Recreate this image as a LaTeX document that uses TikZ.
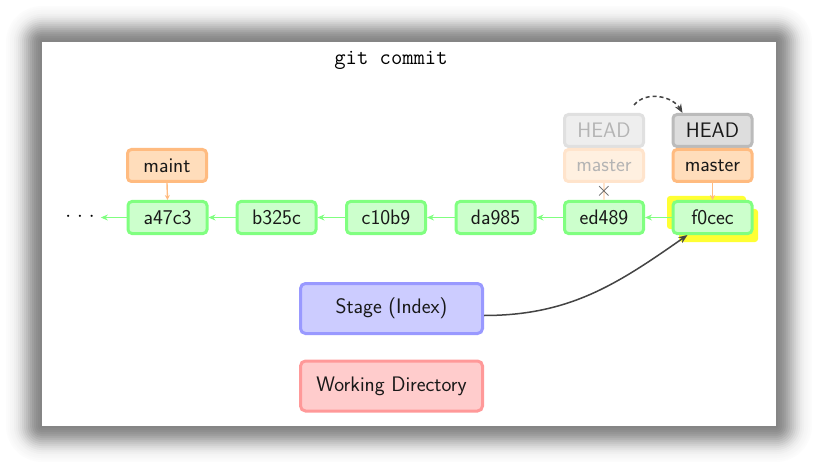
\documentclass[tikz,border=0pt]{standalone}
\usetikzlibrary{arrows.meta,calc}
\definecolor{cgreenline}{HTML}{80FF80}
\definecolor{cgreenfill}{HTML}{CCFFCC}
\definecolor{corangeline}{HTML}{FFBB80}
\definecolor{corangefill}{HTML}{FFDDBB}
\definecolor{cheadline}{HTML}{BBBBBB}
\definecolor{cheadfill}{HTML}{DDDDDD}
\definecolor{cfadeheadline}{HTML}{E0E0E0}
\definecolor{cfadeheadfill}{HTML}{EEEEEE}
\definecolor{cfadeorline}{HTML}{FFE4CC}
\definecolor{cfadeorfill}{HTML}{FFF0E0}
\definecolor{cfadetext}{HTML}{B4B4B4}
\definecolor{cblueline}{HTML}{9999FF}
\definecolor{cbluefill}{HTML}{CCCCFF}
\definecolor{credline}{HTML}{FF9999}
\definecolor{credfill}{HTML}{FFCCCC}
\definecolor{chigh}{HTML}{FFFF33}
\definecolor{cdark}{HTML}{444444}
\tikzset{
  every node/.style={font=\fontsize{21}{25}\selectfont\sffamily},
  box/.style={draw, line width=3pt, rounded corners=4pt, inner sep=0pt,
    minimum width=79pt, minimum height=32pt, text=black!90},
  commit/.style={box, draw=cgreenline, fill=cgreenfill},
  branch/.style={box, draw=corangeline, fill=corangefill},
  headbox/.style={box, draw=cheadline, fill=cheadfill},
  fadehead/.style={box, draw=cfadeheadline, fill=cfadeheadfill, text=cfadetext},
  fadebranch/.style={box, draw=cfadeorline, fill=cfadeorfill, text=cfadetext},
  area/.style={draw, line width=3pt, rounded corners=5pt, inner sep=0pt,
    minimum width=182pt, minimum height=50pt, text=black!90},
  parent/.style={draw=cgreenline, line width=1.6pt, -{Stealth[length=7pt,width=6pt]}},
  points/.style={draw=corangeline, line width=1.4pt, -{Stealth[length=5pt,width=5pt]}},
  move/.style={draw=cdark, line width=1.5pt, -{Stealth[length=9pt,width=7pt]}},
  glow/.style={fill=chigh, rounded corners=3pt},
}
\begin{document}
\begin{tikzpicture}[x=1pt,y=1pt]
  \useasboundingbox (0,0) rectangle (818,469);
  % soft drop shadow round the sheet: rings of decreasing grey, outermost first
  \foreach \d/\g in {36/1,34/2,32/3,30/4,28/6,26/8,24/11,22/14,20/18,18/22,
                     16/26,14/30,12/34,10/38,8/41,6/44,4/46,2/48}{
    \fill[black!\g, rounded corners=\d pt]
      ({42-\d},{43-\d}) rectangle ({776+\d},{427+\d});
  }
  \fill[white] (42,43) rectangle (776,427);

  % title
  \node[font=\fontsize{22}{26}\selectfont\ttfamily] (title) at (391,409) {git commit};

  % highlight behind the new commit
  \fill[glow] (667,240) rectangle (746,273);
  \fill[glow] (679,227) rectangle (758,260);

  % commits
  \node[commit] (a47c3) at (167.5,251.5) {a47c3};
  \node[commit] (b325c) at (276.5,251.5) {b325c};
  \node[commit] (c10b9) at (386,251.5) {c10b9};
  \node[commit] (da985) at (495.5,251.5) {da985};
  \node[commit] (ed489) at (604,251.5) {ed489};
  \node[commit] (f0cec) at (712.5,251.5) {f0cec};
  \node[inner sep=0pt] (dots) at (80,252) {$\cdot$\hspace{6pt}$\cdot$\hspace{6pt}$\cdot$};

  % parent links
  \draw[parent] (a47c3.west) -- ([xshift=6pt]dots.east |- a47c3.west);
  \draw[parent] (b325c.west) -- (a47c3.east);
  \draw[parent] (c10b9.west) -- (b325c.east);
  \draw[parent] (da985.west) -- (c10b9.east);
  \draw[parent] (ed489.west) -- (da985.east);
  \draw[parent] (f0cec.west) -- (ed489.east);

  % branch labels
  \node[branch] (maint) at (167,303.5) {maint};
  \draw[points] (maint.south) -- (a47c3.north);

  % old position of HEAD / master
  \node[fadehead] (ghead) at (604,338.5) {HEAD};
  \node[fadebranch] (gmaster) at (604,303.5) {master};
  \draw[draw=cfadeorline, line width=1.4pt] (gmaster.south) -- (ed489.north);
  \node[text=black!65, inner sep=0pt] (gone) at ($(gmaster.south)!0.5!(ed489.north)$) {$\times$};

  % new position of HEAD / master
  \node[headbox] (head) at (712.5,338.5) {HEAD};
  \node[branch] (master) at (712.5,303.5) {master};
  \draw[points] (master.south) -- (f0cec.north);

  \draw[move, dashed, dash pattern=on 4pt off 3pt]
    ([shift={(-11,8)}]ghead.north east) to[out=50,in=120] ([xshift=11pt]head.north west);

  % stage and working directory
  \node[area, draw=cblueline, fill=cbluefill] (stage) at (391.5,160.5) {Stage (Index)};
  \node[area, draw=credline, fill=credfill] (wd) at (391.5,83) {Working Directory};

  \draw[move] ([yshift=-7pt]stage.east) to[out=0,in=215] ([xshift=-25pt]f0cec.south);
\end{tikzpicture}
\end{document}
